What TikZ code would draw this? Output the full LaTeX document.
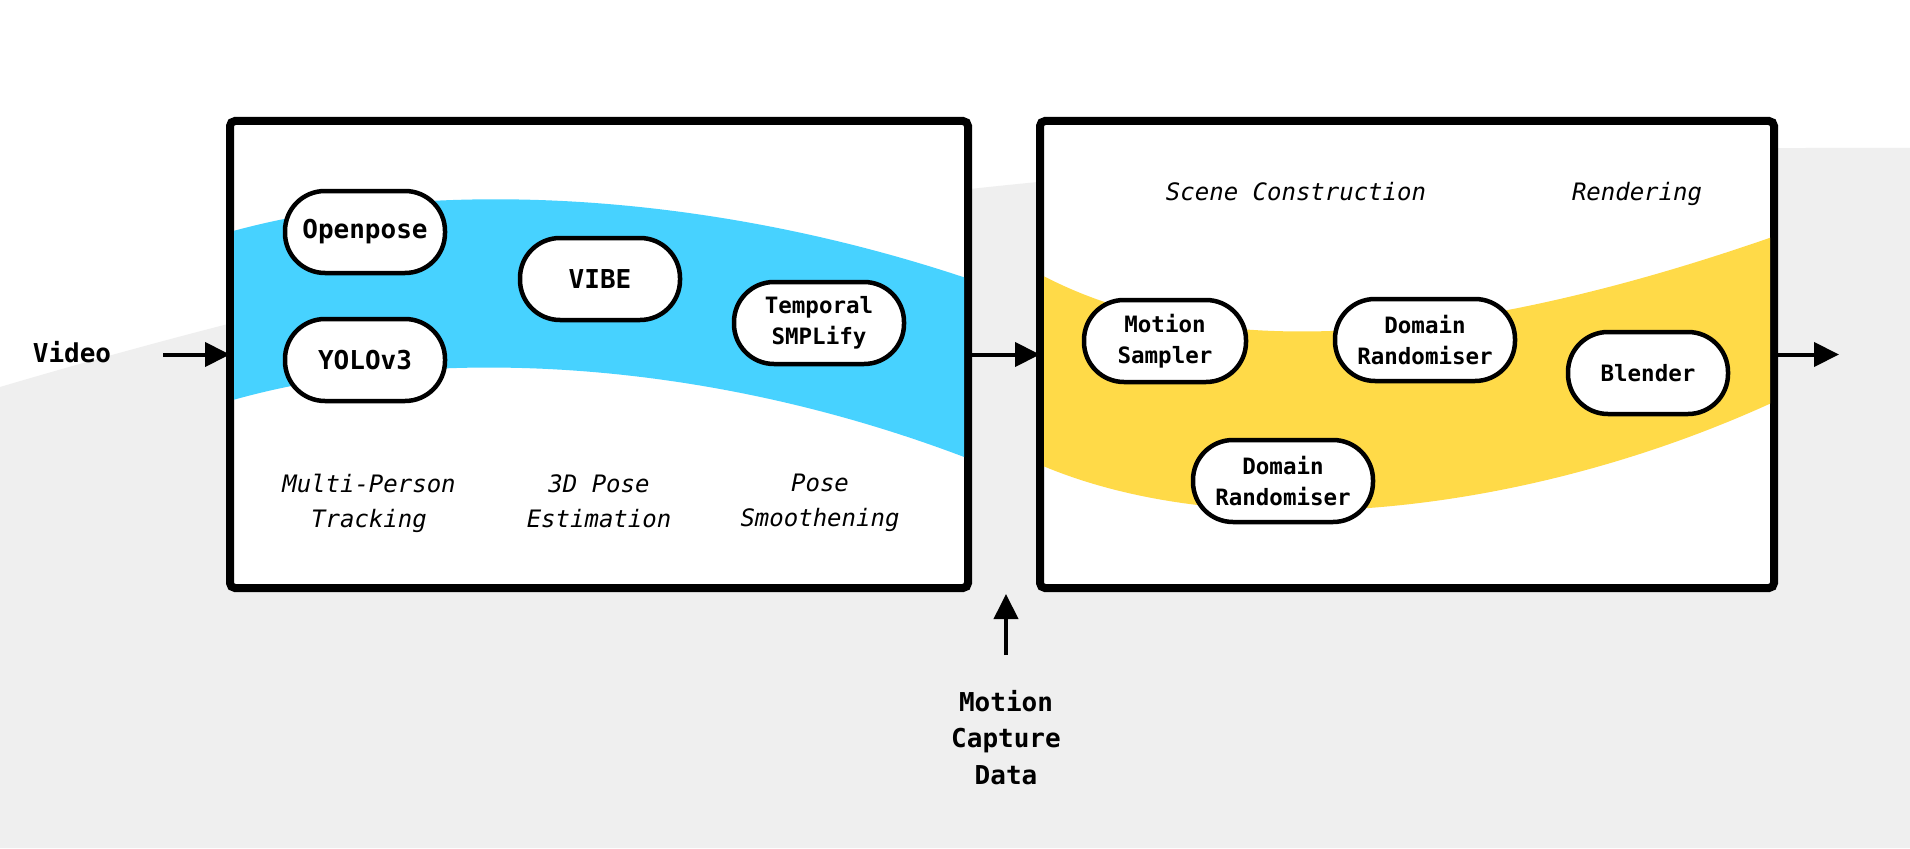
\documentclass[tikz,border=0pt]{standalone}
\usepackage{fontspec}
\setmonofont{DejaVu Sans Mono}
\usepackage{tikz}
\usetikzlibrary{positioning, arrows.meta, calc}
\definecolor{bggrey}{RGB}{239,239,239}
\definecolor{bandblue}{RGB}{71,210,255}
\definecolor{bandyellow}{RGB}{255,218,72}
\tikzstyle{myarrow}=[line width=4pt, -{Triangle[length=25pt, width=24pt]}]
\newcommand{\stfont}{\ttfamily\bfseries}
\newcommand{\bigst}{\fontsize{26}{32}\selectfont\stfont}
\newcommand{\smallst}{\fontsize{22.5}{31}\selectfont\stfont}
\newcommand{\phasefont}{\fontsize{24}{35}\selectfont\ttfamily\itshape}

\begin{document}
\begin{tikzpicture}[x=1pt, y=-1pt]
    \tikzset {
        stage node/.style={
                draw,
                line width=4.5pt,
                fill=white,
                align=center,
                rounded corners=40pt,
                minimum width=160pt,
                minimum height=82pt,
                inner sep=0pt,
                font=\smallst
            },
        panel/.style={
                draw,
                line width=8pt,
                fill=white,
                rounded corners=5pt,
                outer sep=0pt,
                minimum height=467pt
            },
        phase/.style={font=\phasefont, align=center, inner sep=0pt}
    }
    \useasboundingbox (0,0) rectangle (1910,848);

    % background
    \fill[white] (0,0) rectangle (1910,848);
    \fill[bggrey] (0,387) .. controls (600,210) and (1100,145) .. (1910,148) -- (1910,848) -- (0,848) -- cycle;

    % panels
    \node[panel, minimum width=738pt] (track) at (599,354.5) {};
    \node[panel, minimum width=734pt] (scene) at (1407,354.5) {};

    % pose band
    \begin{scope}
        \clip ($(track.north west)+(4,4)$) rectangle ($(track.south east)+(-4,-4)$);
        \fill[bandblue] (226,233) .. controls (420,178) and (700,188) .. (972,280)
            -- (972,460) .. controls (700,355) and (420,345) .. (226,402) -- cycle;
    \end{scope}
    % scene band
    \begin{scope}
        \clip ($(scene.north west)+(4,4)$) rectangle ($(scene.south east)+(-4,-4)$);
        \fill[bandyellow] (1036,272) .. controls (1200,362) and (1450,350) .. (1778,235)
            -- (1778,400) .. controls (1530,515) and (1230,548) .. (1036,463) -- cycle;
    \end{scope}

    % tracking
    \node[stage node, font=\bigst] (openpose) at (365,232) {Openpose};
    \node[stage node, font=\bigst] (yolo) at (365,360) {YOLOv3};
    % pose estimation
    \node[stage node, font=\bigst] (vibe) at (600,279) {VIBE};
    % smoothing
    \node[stage node, minimum width=170pt] (smplify) at (819,323) {Temporal\\SMPLify};
    % scene construction
    \node[stage node, minimum width=162pt] (sampler) at (1165,341) {Motion\\Sampler};
    \node[stage node, minimum width=180pt] (domainA) at (1425,340) {Domain\\Randomiser};
    \node[stage node, minimum width=180pt] (domainB) at (1283,481) {Domain\\Randomiser};
    % rendering
    \node[stage node] (blender) at (1648,373) {Blender};

    % phase labels
    \node[phase, anchor=north] (mpt) at (369,474) {Multi-Person\\Tracking};
    \node[phase, anchor=north] (pest) at (599,474) {3D Pose\\Estimation};
    \node[phase, anchor=north] (psmooth) at (820,474) {Pose\\Smoothening};
    \node[phase, anchor=base] (sconst) at (1296,200) {Scene Construction};
    \node[phase, anchor=base] (render) at (1637,200) {Rendering};

    % inputs
    \node[font=\bigst, inner sep=0pt, anchor=base] (video) at (72,362) {Video};
    \node[font={\fontsize{26}{36.5}\selectfont\stfont}, align=center, inner sep=0pt, anchor=north] (mocap) at (1006,690) {Motion\\Capture\\Data};

    % arrows
    \coordinate (out) at (1839,354.5);
    \coordinate (gap) at (1006,594);
    \draw[myarrow, shorten <=52pt] (video.east |- track.west) -- (track.west);
    \draw[myarrow] (track.east) -- (scene.west);
    \draw[myarrow] (scene.east) -- (out);
    \draw[myarrow, shorten <=35pt] (mocap.north) -- (gap);
\end{tikzpicture}
\end{document}
